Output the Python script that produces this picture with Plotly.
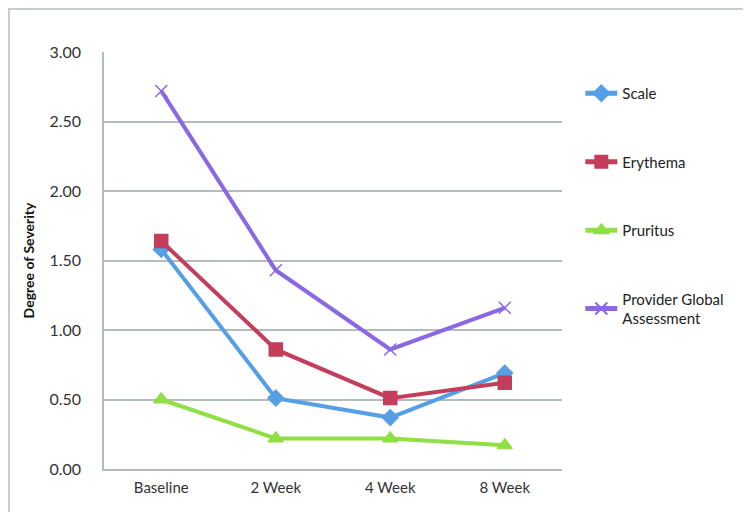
import plotly.graph_objects as go

categories = ["Baseline", "2 Week", "4 Week", "8 Week"]
scale = [1.58, 0.51, 0.37, 0.69]
erythema = [1.64, 0.86, 0.51, 0.62]
pruritus = [0.50, 0.22, 0.22, 0.17]
provider = [2.72, 1.43, 0.86, 1.16]

series = [
    ("Scale", scale, "#559FE6", "diamond", 12),
    ("Erythema", erythema, "#C43E5C", "square", 13),
    ("Pruritus", pruritus, "#8FDF45", "triangle-up", 13),
    ("Provider Global<br>Assessment", provider, "#8A68E3", "x-thin-open", 12),
]

fig = go.Figure()
for i, (name, vals, color, sym, size) in enumerate(series):
    fig.add_trace(go.Scatter(
        x=categories, y=vals, name=name, mode="lines+markers",
        legendgroup=str(i),
        line=dict(color=color, width=4),
        marker=dict(symbol=sym, size=size, color=color,
                    line=dict(color=color, width=1.5)),
    ))

fig.update_layout(
    width=751, height=512,
    margin=dict(l=96, r=197, t=44, b=51),
    paper_bgcolor="white", plot_bgcolor="white",
    font=dict(family="Lato, Open Sans, sans-serif", size=14, color="#333333"),
    showlegend=True,
    legend=dict(x=1.04, y=0.94, xanchor="left", yanchor="top",
                tracegroupgap=46, itemwidth=32, itemsizing="constant",
                font=dict(size=15, color="#222222"),
                bgcolor="rgba(0,0,0,0)"),
    xaxis=dict(range=[-0.5, 3.5], showgrid=False, showline=True,
               linecolor="#B3BBBB", linewidth=1.5, ticks="",
               ticklabelstandoff=4, tickfont=dict(size=15)),
    yaxis=dict(range=[0, 3], dtick=0.5, tickformat=".2f",
               showgrid=True, gridcolor="#B3BBBB", gridwidth=1.5,
               showline=True, linecolor="#B3BBBB", linewidth=1.5,
               zeroline=False, ticks="", ticklabelstandoff=18,
               tickfont=dict(size=16),
               title=dict(text="<b>Degree of Severity</b>",
                          font=dict(size=14, color="#111111"), standoff=12)),
    shapes=[dict(type="rect", xref="paper", yref="paper",
                 x0=-95/458, x1=1+196/458, y0=-49/417, y1=1+43/417,
                 line=dict(color="#C8CCCC", width=2), fillcolor="rgba(0,0,0,0)")],
)

fig.write_html("out.html")
